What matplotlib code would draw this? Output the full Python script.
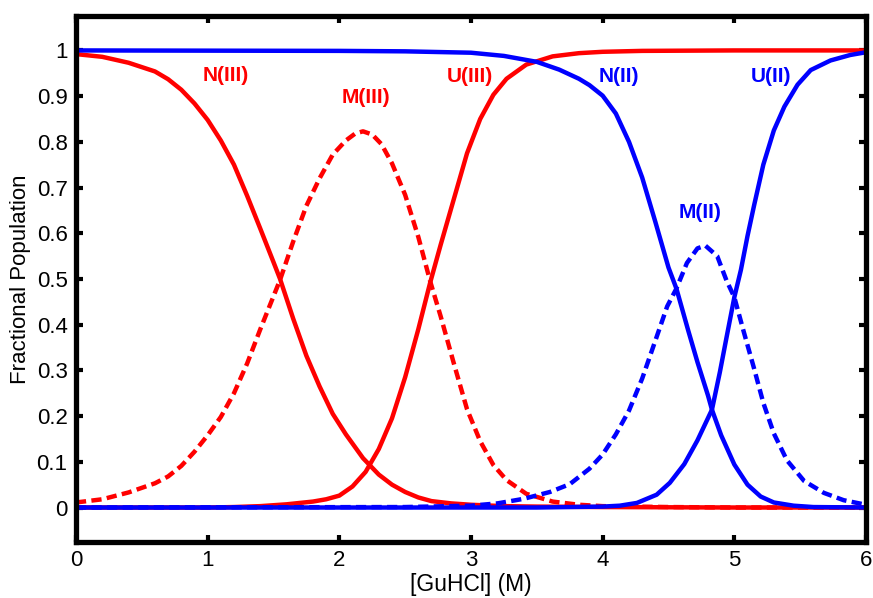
import matplotlib
matplotlib.use("Agg")
import matplotlib.pyplot as plt

plt.rcParams['font.family'] = ['Liberation Sans', 'DejaVu Sans']

# ---- data ----
# Protein III (red)
xN3 = [0, 0.2, 0.4, 0.6, 0.7, 0.8, 0.9, 1.0, 1.1, 1.2, 1.3, 1.4, 1.5, 1.55, 1.65, 1.75, 1.85,
       1.95, 2.05, 2.18, 2.3, 2.4, 2.5, 2.6, 2.7, 2.85, 3.0, 3.25, 3.5, 4.0, 5.0, 6.0]
N3 = [0.992, 0.986, 0.973, 0.954, 0.937, 0.914, 0.884, 0.848, 0.803, 0.750, 0.682, 0.610,
      0.537, 0.500, 0.413, 0.332, 0.265, 0.205, 0.160, 0.108, 0.072, 0.050, 0.034, 0.022,
      0.014, 0.009, 0.006, 0.003, 0.002, 0.001, 0.0, 0.0]

xM3 = [0, 0.2, 0.4, 0.6, 0.7, 0.8, 0.9, 1.0, 1.1, 1.2, 1.3, 1.4, 1.5, 1.55, 1.65, 1.75, 1.85,
       1.95, 2.05, 2.12, 2.18, 2.25, 2.32, 2.4, 2.5, 2.6, 2.69, 2.77, 2.87, 2.97, 3.07, 3.17,
       3.27, 3.42, 3.62, 3.82, 4.0, 4.5, 5.0, 6.0]
M3 = [0.011, 0.018, 0.033, 0.053, 0.068, 0.091, 0.122, 0.158, 0.198, 0.250, 0.315, 0.390,
      0.462, 0.498, 0.582, 0.660, 0.720, 0.772, 0.803, 0.818, 0.823, 0.816, 0.795, 0.753,
      0.684, 0.592, 0.495, 0.418, 0.315, 0.215, 0.145, 0.093, 0.060, 0.030, 0.013, 0.006,
      0.003, 0.001, 0.0, 0.0]

xU3 = [0, 1.0, 1.2, 1.4, 1.6, 1.8, 1.9, 2.0, 2.1, 2.2, 2.3, 2.4, 2.5, 2.6, 2.69, 2.77, 2.87,
       2.97, 3.07, 3.17, 3.27, 3.42, 3.62, 3.82, 4.0, 4.3, 5.0, 6.0]
U3 = [0.0, 0.0, 0.001, 0.003, 0.007, 0.013, 0.018, 0.026, 0.046, 0.078, 0.128, 0.195, 0.285,
      0.390, 0.492, 0.575, 0.675, 0.775, 0.850, 0.903, 0.938, 0.969, 0.987, 0.994, 0.997,
      0.999, 1.0, 1.0]

# Protein II (blue)
xN2 = [0, 2.0, 2.5, 3.0, 3.25, 3.5, 3.67, 3.82, 3.9, 4.0, 4.1, 4.2, 4.3, 4.4, 4.5, 4.56,
       4.65, 4.72, 4.8, 4.83, 4.9, 5.0, 5.1, 5.2, 5.3, 5.45, 5.6, 6.0]
N2 = [1.0, 0.999, 0.998, 0.995, 0.988, 0.975, 0.958, 0.938, 0.924, 0.901, 0.862, 0.800,
      0.722, 0.625, 0.525, 0.479, 0.387, 0.318, 0.245, 0.214, 0.158, 0.094, 0.050, 0.024,
      0.011, 0.004, 0.001, 0.0]

xM2 = [0, 2.5, 3.0, 3.2, 3.4, 3.6, 3.75, 3.9, 4.0, 4.1, 4.2, 4.3, 4.4, 4.49, 4.56, 4.64,
       4.72, 4.78, 4.87, 4.94, 5.0, 5.07, 5.15, 5.22, 5.3, 5.4, 5.53, 5.68, 5.83, 6.0]
M2 = [0.0, 0.001, 0.004, 0.009, 0.019, 0.034, 0.051, 0.085, 0.116, 0.160, 0.212, 0.282,
      0.365, 0.440, 0.479, 0.535, 0.567, 0.573, 0.550, 0.497, 0.460, 0.386, 0.304, 0.229,
      0.162, 0.103, 0.058, 0.032, 0.016, 0.006]

xU2 = [0, 3.5, 4.0, 4.13, 4.26, 4.41, 4.51, 4.62, 4.72, 4.83, 4.89, 4.94, 5.0, 5.05, 5.1,
       5.15, 5.22, 5.3, 5.38, 5.48, 5.58, 5.73, 5.88, 6.0]
U2 = [0.0, 0.0, 0.002, 0.004, 0.010, 0.028, 0.054, 0.095, 0.147, 0.214, 0.296, 0.371, 0.460,
      0.520, 0.594, 0.661, 0.750, 0.825, 0.877, 0.925, 0.957, 0.978, 0.990, 0.996]

# annotations
label_text = ["N(III)", "M(III)", "U(III)", "N(II)", "M(II)", "U(II)"]
label_x = [1.14, 2.20, 2.99, 4.12, 4.74, 5.28]
label_y = [0.946, 0.896, 0.944, 0.944, 0.646, 0.944]
label_color = ["#ff0000", "#ff0000", "#ff0000", "#0000ff", "#0000ff", "#0000ff"]

xticks = [0, 1, 2, 3, 4, 5, 6]
yticks = [0, 0.1, 0.2, 0.3, 0.4, 0.5, 0.6, 0.7, 0.8, 0.9, 1]
ytick_labels = ["0", "0.1", "0.2", "0.3", "0.4", "0.5", "0.6", "0.7", "0.8", "0.9", "1"]

# ---- figure ----
RED = "#ff0000"
BLUE = "#0000ff"
LW = 3.2
DASH = (0, (2.3, 1.2))

fig = plt.figure(figsize=(8.73, 5.98), dpi=100)
ax = fig.add_axes([0.087, 0.094, 0.905, 0.879])

ax.plot(xN3, N3, color=RED, lw=LW, solid_capstyle='butt')
ax.plot(xM3, M3, color=RED, lw=LW, linestyle=DASH)
ax.plot(xU3, U3, color=RED, lw=LW, solid_capstyle='butt')
ax.plot(xN2, N2, color=BLUE, lw=LW, solid_capstyle='butt')
ax.plot(xM2, M2, color=BLUE, lw=LW, linestyle=DASH)
ax.plot(xU2, U2, color=BLUE, lw=LW, solid_capstyle='butt')

for t, x, y, c in zip(label_text, label_x, label_y, label_color):
    ax.text(x, y, t, color=c, fontsize=15, fontweight='bold', ha='center', va='center')

ax.set_xlim(0, 6)
ax.set_ylim(-0.075, 1.075)
ax.set_xticks(xticks)
ax.set_xticklabels([str(v) for v in xticks])
ax.set_yticks(yticks)
ax.set_yticklabels(ytick_labels)

for s in ax.spines.values():
    s.set_linewidth(3.8)
ax.tick_params(direction='in', length=5, width=3, labelsize=16, pad=6,
               top=True, right=True)

ax.set_xlabel("[GuHCl] (M)", fontsize=16.5, labelpad=1)
ax.set_ylabel("Fractional Population", fontsize=16, labelpad=4)

fig.savefig("out.png", dpi=100)
